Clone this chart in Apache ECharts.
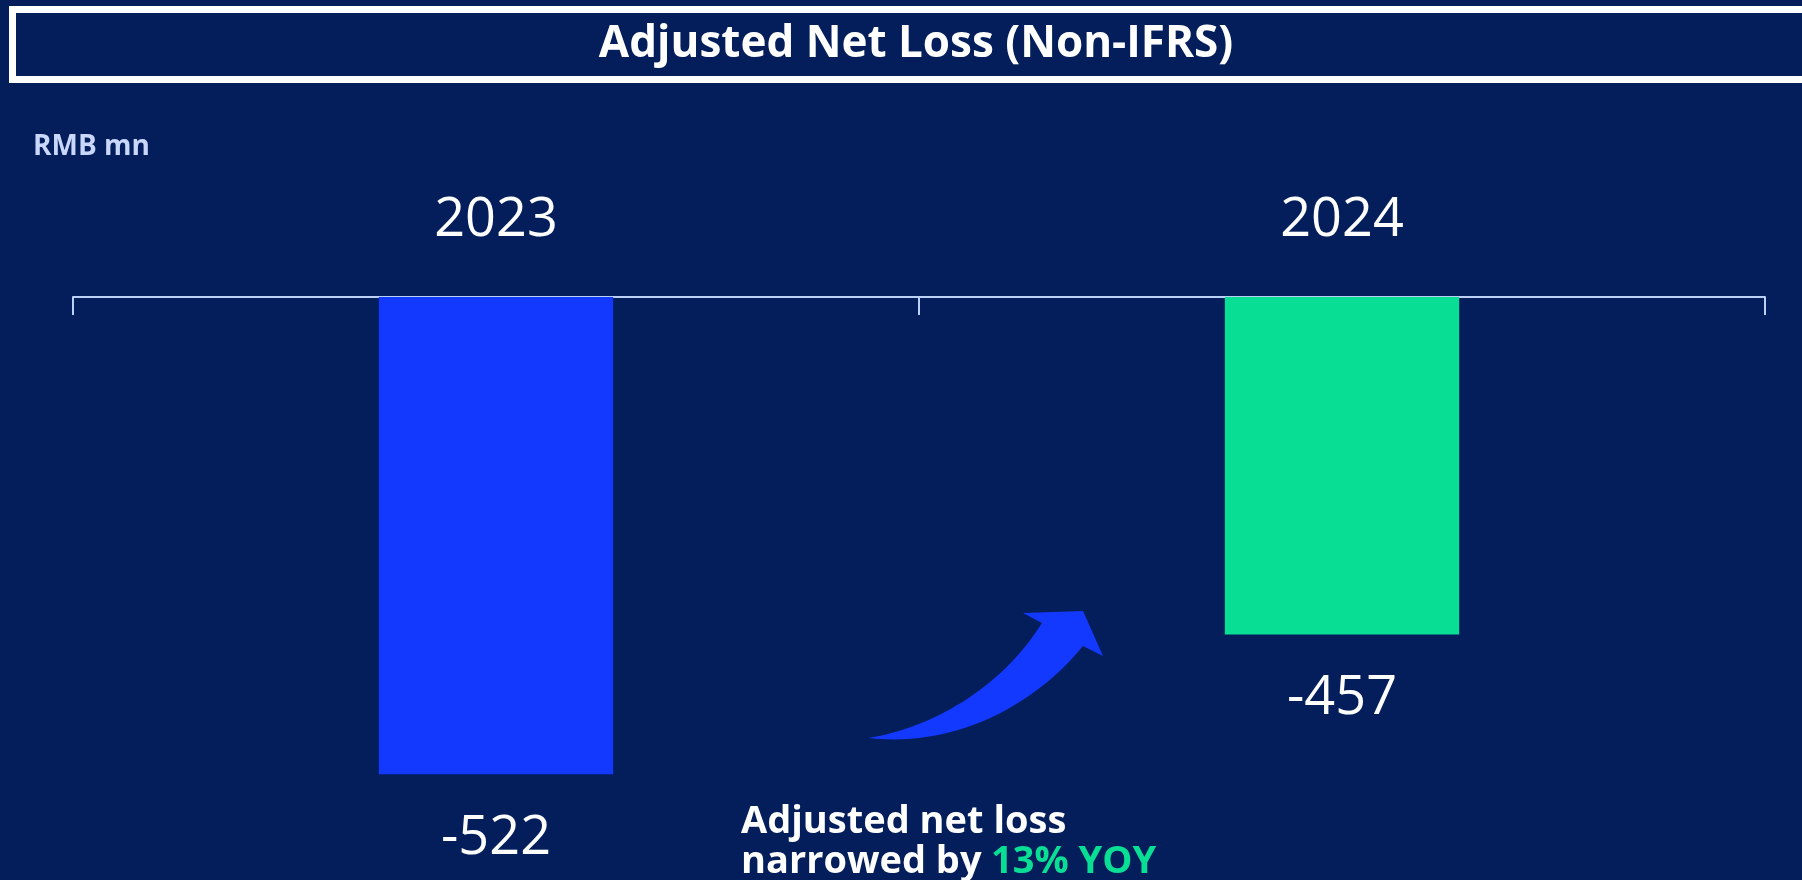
<!DOCTYPE html>
<html>
<head>
<meta charset="utf-8">
<style>
  html, body { margin: 0; padding: 0; background: #031e5b; }
  #chart { width: 1802px; height: 880px; }
</style>
<script src="https://cdn.jsdelivr.net/npm/echarts@6/dist/echarts.min.js"></script>
</head>
<body>
<div id="chart"></div>
<script>
// Adjusted net loss by year, RMB mn
const years = ['2023', '2024'];
const netLoss = [-522, -457];
const barColors = ['#1439fe', '#08df95'];

const FONT = '"Open Sans", "Noto Sans", sans-serif';
const chart = echarts.init(document.getElementById('chart'));

// sample a cubic bezier into polygon points
function cubic(p0, p1, p2, p3, n) {
  const pts = [];
  for (let i = 0; i <= n; i++) {
    const t = i / n, u = 1 - t;
    pts.push([
      u * u * u * p0[0] + 3 * u * u * t * p1[0] + 3 * u * t * t * p2[0] + t * t * t * p3[0],
      u * u * u * p0[1] + 3 * u * u * t * p1[1] + 3 * u * t * t * p2[1] + t * t * t * p3[1]
    ]);
  }
  return pts;
}
// curved arrow outline: upper edge, head, lower edge back to tail
const arrowPts = []
  .concat(cubic([868, 738], [930, 728], [1000, 690], [1042, 623], 30))
  .concat([[1023, 613], [1083, 611], [1103, 656]])
  .concat(cubic([1083, 646], [1035, 705], [955, 748], [868, 738], 30));

chart.setOption({
  backgroundColor: '#031e5b',
  animation: false,
  grid: { left: 73, right: 37, top: 297, bottom: 24 },
  xAxis: {
    type: 'category',
    data: years,
    position: 'top',
    axisLine: { show: true, onZero: false, lineStyle: { color: '#bcd0f5', width: 2 } },
    axisTick: { show: true, inside: true, length: 18, lineStyle: { color: '#bcd0f5', width: 2 } },
    axisLabel: { color: '#ffffff', fontSize: 54, fontFamily: FONT, margin: 49 },
    splitLine: { show: false }
  },
  yAxis: {
    type: 'value',
    min: -560,
    max: -300,
    show: false,
    splitLine: { show: false }
  },
  series: [{
    type: 'bar',
    clip: true,
    barWidth: '27.7%',
    data: netLoss.map((v, i) => ({ value: v, itemStyle: { color: barColors[i] } })),
    label: {
      show: true,
      position: 'bottom',
      distance: 37,
      color: '#ffffff',
      fontSize: 54,
      fontFamily: FONT
    }
  }],
  graphic: [
    // title frame
    {
      type: 'rect',
      shape: { x: 12.5, y: 9.5, width: 1900, height: 70 },
      style: { fill: 'transparent', stroke: '#ffffff', lineWidth: 7 }
    },
    {
      type: 'text',
      x: 916, y: 44,
      style: {
        text: 'Adjusted Net Loss (Non-IFRS)',
        fill: '#ffffff',
        font: 'bold 44px ' + FONT,
        textAlign: 'center',
        textVerticalAlign: 'middle'
      }
    },
    {
      type: 'text',
      x: 33, y: 147,
      style: {
        text: 'RMB mn',
        fill: '#c9d7fb',
        font: 'bold 28px ' + FONT,
        textAlign: 'left',
        textVerticalAlign: 'middle'
      }
    },
    // curved arrow between the bars
    {
      type: 'polygon',
      shape: { points: arrowPts },
      style: { fill: '#1439fe' }
    },
    {
      type: 'text',
      x: 741, y: 822,
      style: {
        text: 'Adjusted net loss',
        fill: '#ffffff',
        font: 'bold 38px ' + FONT,
        textAlign: 'left',
        textVerticalAlign: 'middle'
      }
    },
    {
      type: 'text',
      x: 741, y: 862,
      style: {
        text: 'narrowed by ',
        fill: '#ffffff',
        font: 'bold 38px ' + FONT,
        textAlign: 'left',
        textVerticalAlign: 'middle'
      }
    },
    {
      type: 'text',
      x: 991, y: 862,
      style: {
        text: '13% YOY',
        fill: '#08df95',
        font: 'bold 38px ' + FONT,
        textAlign: 'left',
        textVerticalAlign: 'middle'
      }
    }
  ]
});
</script>
</body>
</html>
